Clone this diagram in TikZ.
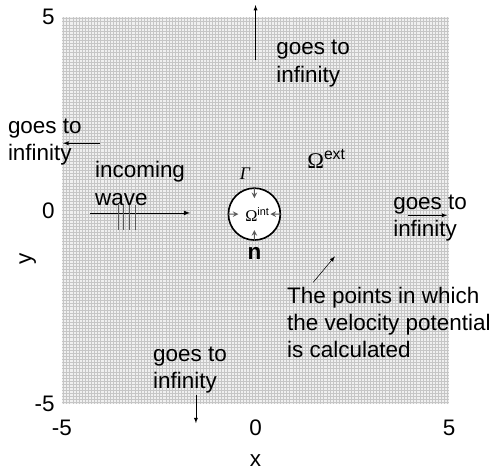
\documentclass[tikz,border=0pt]{standalone}
\usepackage{fontspec}
\setmainfont{Liberation Sans}
\newfontfamily\grk{Liberation Serif}
\usetikzlibrary{arrows,positioning,calc}

\tikzset{
 txt/.style={align=left, inner sep=0pt, anchor=base west, font=\fontsize{16.5}{20}\selectfont},
 tick/.style={inner sep=0pt, font=\fontsize{16.5}{20}\selectfont},
 toinf/.style={-latex, thin},
 inarr/.style={-stealth, gray!70!black, thick},
}

\begin{document}
\begin{tikzpicture}
\useasboundingbox (-6.60,-6.78) rectangle (6.21,5.44);
% grid of points
 \fill[gray!12] (-5,-5) rectangle (5,5);
 \draw[gray!45, line width=0.3pt, step=0.08] (-5,-5) grid (5,5);
% ticks and axis labels
 \foreach \v/\n in {-5/a,0/b,5/c} {
  \node[tick, anchor=east] (ty\n) at (-5.18,\v) {\v};
  \node[tick] (tx\n) at (\v,-5.62) {\v};
 }
 \node[tick] (xlab) at (0,-6.45) {x};
 \node[tick, rotate=90] (ylab) at (-5.88,-1.25) {y};
% obstacle
 \node[circle, draw, line width=1.2pt, fill=white, minimum size=1.34cm, inner sep=0pt] (obst) at (-0.03,-0.09) {};
 \node[inner sep=0pt, font=\fontsize{12}{14}\selectfont, xshift=0.08cm] (oint) at (obst.center) {{\grk Ω}\textsuperscript{int}};
 \foreach \a in {north,south,east,west}
  \draw[inarr] (obst.\a) -- ($(obst.\a)!0.4!(obst.center)$);
 \node[inner sep=0pt, font=\fontsize{13}{15}\selectfont, above left=0.2cm and 0.11cm of obst.north] (gam) {{\grk\itshape Γ}};
 \node[inner sep=0pt, font=\fontsize{16.5}{20}\selectfont\bfseries, below=0.15cm of obst.south] (nrm) {n};
% nodes (placed at the baseline of their last line)
 \node[txt] (topinf) at (0.53,3.32) {goes to\\infinity};
 \node[txt] (leftinf) at (-6.40,1.30) {goes to\\infinity};
 \node[txt] (wave) at (-4.15,0.14) {incoming\\wave};
 \node[txt] (oext) at (1.33,1.10) {{\grk Ω}\textsuperscript{ext}};
 \node[txt] (rightinf) at (3.55,-0.68) {goes to\\infinity};
 \node[txt] (pts) at (0.81,-3.80) {The points in which\\the velocity potential\\is calculated};
 \node[txt] (botinf) at (-2.65,-4.59) {goes to\\infinity};
% arrow ends
 \coordinate (topA) at (0,3.89);   \coordinate (topB) at (0,5.31);
 \coordinate (leftA) at (-4.02,1.74); \coordinate (leftB) at (-4.97,1.74);
 \coordinate (rightA) at (3.94,-0.12); \coordinate (rightB) at (4.95,-0.12);
 \coordinate (botA) at (-1.54,-4.77); \coordinate (botB) at (-1.54,-5.49);
 \coordinate (waveA) at (-4.28,-0.06); \coordinate (waveB) at (-1.69,-0.06);
 \coordinate (ptsA) at (1.49,-1.85);  \coordinate (ptsB) at (2.05,-1.18);
% edges
 \foreach \s in {top,left,right,bot}
  \draw[toinf] (\s A) -- (\s B);
 \draw[-latex, semithick] (waveA) -- (waveB);
 \draw[-latex, thin] (ptsA) -- (ptsB);
% wave fronts
 \foreach \x in {-3.55,-3.42,-3.27,-3.11}
  \draw[gray!70!black, thin] (\x,0.14) -- (\x,-0.5);
\end{tikzpicture}
\end{document}
